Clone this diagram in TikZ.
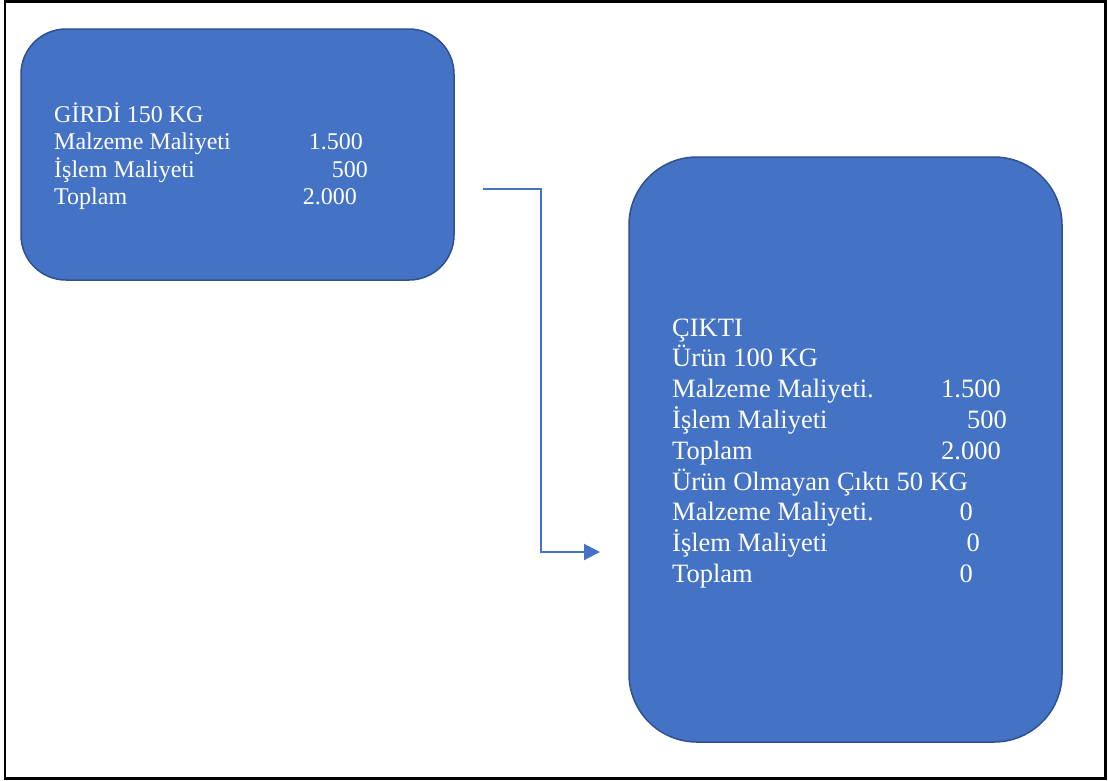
\documentclass[tikz,border=0pt]{standalone}
\usepackage{fontspec}
\setmainfont{Liberation Serif}
\usetikzlibrary{arrows.meta}
\definecolor{boxfill}{HTML}{4472C4}
\definecolor{boxline}{HTML}{2F528F}
\tikzset{
  costbox/.style={draw=boxline, line width=1.5pt, fill=boxfill, inner sep=0pt},
  txtA/.style={text=white, inner sep=0pt, font=\fontsize{24}{28}\selectfont},
  txtB/.style={text=white, inner sep=0pt, font=\fontsize{26.5}{31}\selectfont},
  flow/.style={draw=boxfill, line width=2pt, -{Triangle[length=16pt,width=16pt]}}
}
\begin{document}
\begin{tikzpicture}[x=1pt,y=-1pt]
  \useasboundingbox (0,0) rectangle (1108,780);
  \node[draw=black, line width=2.5pt, minimum width=1100.5pt, minimum height=777pt, inner sep=0pt] (frame) at (555.4,389.9) {};

  % input box
  \node[costbox, minimum width=433pt, minimum height=251pt, rounded corners=45pt] (girdi) at (237.5,154.5) {};
  \node[txtA, anchor=base west] (g1) at (54,122) {GİRDİ 150 KG};
  \node[txtA, anchor=base west] (g2) at (54,149) {Malzeme Maliyeti};
  \node[txtA, anchor=base west] (g3) at (54,177) {İşlem Maliyeti};
  \node[txtA, anchor=base west] (g4) at (54,204) {Toplam};
  \node[txtA, anchor=base east] (g2v) at (363,149) {1.500};
  \node[txtA, anchor=base east] (g3v) at (368,177) {500};
  \node[txtA, anchor=base east] (g4v) at (357,204) {2.000};

  % output box
  \node[costbox, minimum width=433pt, minimum height=585pt, rounded corners=68pt] (cikti) at (845.5,449.5) {};
  \node[txtB, anchor=base west] (c1) at (672,336) {ÇIKTI};
  \node[txtB, anchor=base west] (c2) at (672,366.8) {Ürün 100 KG};
  \node[txtB, anchor=base west] (c3) at (672,397.6) {Malzeme Maliyeti.};
  \node[txtB, anchor=base west] (c4) at (672,428.4) {İşlem Maliyeti};
  \node[txtB, anchor=base west] (c5) at (672,459.2) {Toplam};
  \node[txtB, anchor=base west] (c6) at (672,490) {Ürün Olmayan Çıktı 50 KG};
  \node[txtB, anchor=base west] (c7) at (672,520.8) {Malzeme Maliyeti.};
  \node[txtB, anchor=base west] (c8) at (672,551.6) {İşlem Maliyeti};
  \node[txtB, anchor=base west] (c9) at (672,582.4) {Toplam};
  \node[txtB, anchor=base east] (c3v) at (1001,397.6) {1.500};
  \node[txtB, anchor=base east] (c4v) at (1007,428.4) {500};
  \node[txtB, anchor=base east] (c5v) at (1001,459.2) {2.000};
  \node[txtB, anchor=base east] (c7v) at (973,520.8) {0};
  \node[txtB, anchor=base east] (c8v) at (980,551.6) {0};
  \node[txtB, anchor=base east] (c9v) at (973,582.4) {0};

  % connector
  \coordinate (start) at (483,189);
  \coordinate (bend) at (541,189);
  \coordinate (stop) at (600,552);
  \draw[flow] (start) -- (bend) |- (stop);
\end{tikzpicture}
\end{document}
